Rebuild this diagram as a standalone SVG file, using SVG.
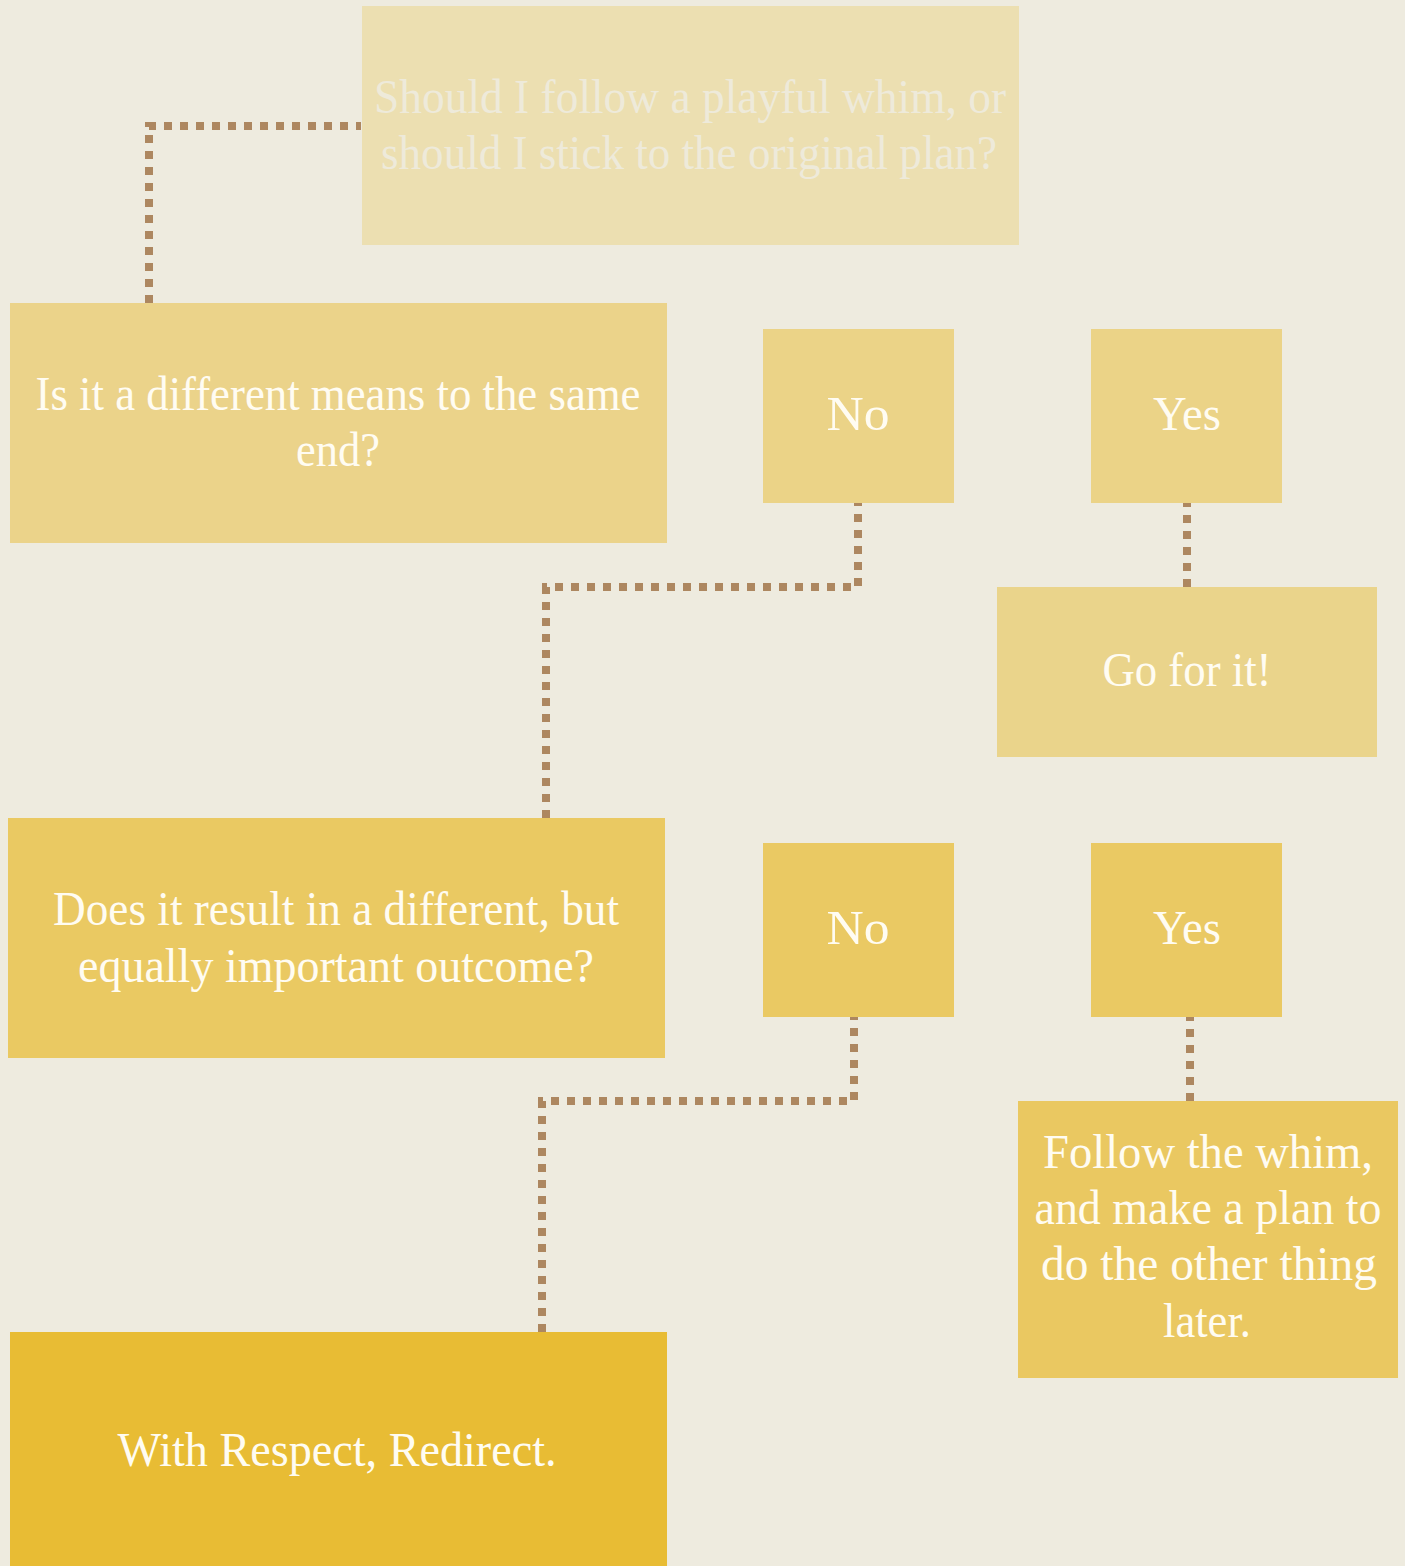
<svg xmlns="http://www.w3.org/2000/svg" width="1405" height="1566" viewBox="0 0 1405 1566">
<style>
.t{font-family:"Liberation Serif","Times New Roman",serif;font-size:48px;fill:#FFFCF2;text-anchor:middle}
.faint{fill:#EEEADA}
.c{fill:none;stroke:#AD8760;stroke-width:8;stroke-dasharray:8 8}
</style>
<rect x="0" y="0" width="1405" height="1566" fill="#EEEBDF"/>
<g id="connectors">
<path class="c" d="M149,303 V126 H361"/>
<path class="c" d="M546,818 V587 H858 V503"/>
<path class="c" d="M1187,587 V503"/>
<path class="c" d="M542,1332 V1101 H854 V1017"/>
<path class="c" d="M1190,1101 V1017"/>
</g>
<g id="n-question">
<rect x="362" y="6" width="657" height="239" fill="#ECDFB1"/>
<text class="t faint" x="690" y="113" textLength="632" lengthAdjust="spacingAndGlyphs">Should I follow a playful whim, or</text>
<text class="t faint" x="689" y="169" textLength="616" lengthAdjust="spacingAndGlyphs">should I stick to the original plan?</text>
</g>
<g id="n-means">
<rect x="10" y="303" width="657" height="240" fill="#EBD38A"/>
<text class="t" x="338" y="410" textLength="605" lengthAdjust="spacingAndGlyphs">Is it a different means to the same</text>
<text class="t" x="338" y="466" textLength="84" lengthAdjust="spacingAndGlyphs">end?</text>
</g>
<g id="n-no1">
<rect x="763" y="329" width="191" height="174" fill="#EBD387"/>
<text class="t" x="858" y="430" textLength="63" lengthAdjust="spacingAndGlyphs">No</text>
</g>
<g id="n-yes1">
<rect x="1091" y="329" width="191" height="174" fill="#EBD387"/>
<text class="t" x="1187" y="430" textLength="68" lengthAdjust="spacingAndGlyphs">Yes</text>
</g>
<g id="n-go">
<rect x="997" y="587" width="380" height="170" fill="#EAD48B"/>
<text class="t" x="1187" y="686" textLength="169" lengthAdjust="spacingAndGlyphs">Go for it!</text>
</g>
<g id="n-outcome">
<rect x="8" y="818" width="657" height="240" fill="#EAC962"/>
<text class="t" x="336" y="925" textLength="566" lengthAdjust="spacingAndGlyphs">Does it result in a different, but</text>
<text class="t" x="336" y="982" textLength="516" lengthAdjust="spacingAndGlyphs">equally important outcome?</text>
</g>
<g id="n-no2">
<rect x="763" y="843" width="191" height="174" fill="#EAC963"/>
<text class="t" x="858" y="944" textLength="63" lengthAdjust="spacingAndGlyphs">No</text>
</g>
<g id="n-yes2">
<rect x="1091" y="843" width="191" height="174" fill="#EAC963"/>
<text class="t" x="1187" y="944" textLength="68" lengthAdjust="spacingAndGlyphs">Yes</text>
</g>
<g id="n-follow">
<rect x="1018" y="1101" width="380" height="277" fill="#EAC861"/>
<text class="t" x="1208" y="1168" textLength="330" lengthAdjust="spacingAndGlyphs">Follow the whim,</text>
<text class="t" x="1208" y="1224" textLength="347" lengthAdjust="spacingAndGlyphs">and make a plan to</text>
<text class="t" x="1209" y="1280" textLength="336" lengthAdjust="spacingAndGlyphs">do the other thing</text>
<text class="t" x="1207" y="1337" textLength="88" lengthAdjust="spacingAndGlyphs">later.</text>
</g>
<g id="n-redirect">
<rect x="10" y="1332" width="657" height="234" fill="#E8BC34"/>
<text class="t" x="337" y="1466" textLength="439" lengthAdjust="spacingAndGlyphs">With Respect, Redirect.</text>
</g>
</svg>
